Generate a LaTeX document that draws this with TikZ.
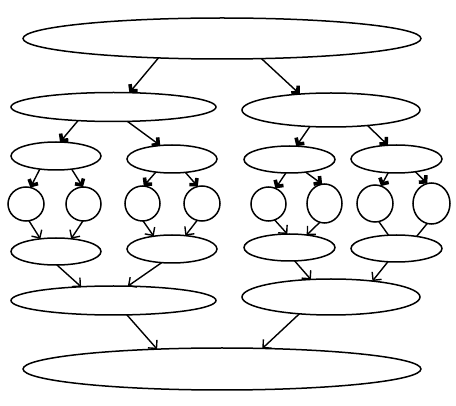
\documentclass[tikz,border=0pt]{standalone}
\usetikzlibrary{shapes.geometric,arrows.meta}
\tikzset{
  ell/.style={draw, ellipse, inner sep=0pt, outer sep=0pt, line width=1.5pt},
  thick head/.style={line width=1.4pt, -{Straight Barb[length=4.5pt,width=10pt,line width=3.6pt]}},
  thin head/.style={line width=1.4pt, -{Straight Barb[length=6pt,width=12pt]}},
  plain/.style={line width=1.4pt}}
\begin{document}
\begin{tikzpicture}[x=1pt,y=-1pt]
\useasboundingbox (0,0) rectangle (456,406);
% nodes
\node[ell, minimum width=398pt, minimum height=41pt] (T) at (222,38.5) {};
\node[ell, minimum width=205pt, minimum height=29pt] (A) at (113.5,107) {};
\node[ell, minimum width=178pt, minimum height=34pt] (B) at (331,110) {};
\node[ell, minimum width=90pt, minimum height=28pt] (A1) at (56,156) {};
\node[ell, minimum width=90pt, minimum height=28pt] (A2) at (172,159) {};
\node[ell, minimum width=91pt, minimum height=27pt] (B1) at (289.5,159.5) {};
\node[ell, minimum width=91pt, minimum height=28pt] (B2) at (396.5,159) {};
\node[ell, minimum width=36pt, minimum height=34pt] (c1) at (26,204) {};
\node[ell, minimum width=35pt, minimum height=34pt] (c2) at (83.5,204) {};
\node[ell, minimum width=35pt, minimum height=35pt] (c3) at (142.5,203.5) {};
\node[ell, minimum width=36pt, minimum height=35pt] (c4) at (202,203.5) {};
\node[ell, minimum width=35pt, minimum height=34pt] (c5) at (268.5,204) {};
\node[ell, minimum width=35pt, minimum height=39pt] (c6) at (324.5,203.5) {};
\node[ell, minimum width=36pt, minimum height=37pt] (c7) at (375,203.5) {};
\node[ell, minimum width=37pt, minimum height=41pt] (c8) at (431.5,203.5) {};
\node[ell, minimum width=90pt, minimum height=27pt] (D1) at (56,251.5) {};
\node[ell, minimum width=90pt, minimum height=28pt] (D2) at (172,249) {};
\node[ell, minimum width=91pt, minimum height=27pt] (E1) at (289.5,247.5) {};
\node[ell, minimum width=91pt, minimum height=27pt] (E2) at (396.5,248.5) {};
\node[ell, minimum width=205pt, minimum height=29pt] (F) at (113.5,300.5) {};
\node[ell, minimum width=178pt, minimum height=36pt] (G) at (331,297) {};
\node[ell, minimum width=398pt, minimum height=42pt] (H) at (222,369) {};
% connectors
\draw[thick head] (T.197) -- (A.42);
\draw[thick head] (T.333) -- (B.153);
\draw[thick head] (A.201) -- (A1.74);
\draw[thick head] (A.314) -- (A2.131);
\draw[thick head] (B.218) -- (B1.63);
\draw[thick head] (B.337) -- (B2.122);
\draw[thick head] (A1.219) -- (c1.75);
\draw[thick head] (A1.320) -- (c2.92);
\draw[thick head] (A2.219) -- (c3.86);
\draw[thick head] (A2.315) -- (c4.104);
\draw[thick head] (B1.255) -- (c5.66);
\draw[thick head] (B1.322) -- (c6.97);
\draw[thick head] (B2.239) -- (c7.71);
\draw[thick head] (B2.326) -- (c8.102);
\draw[thin head] (c1.280) -- (D1.141);
\draw[thin head] (c2.268) -- (D1.40);
\draw[thin head] (c3.272) -- (D2.145);
\draw[thin head] (c4.254) -- (D2.45);
\draw[thin head] (c5.291) -- (E1.99);
\draw[thin head] (c6.256) -- (E1.36);
\draw[plain] (c7.282) -- (E2.121);
\draw[plain] (c8.258) -- (E2.31);
\draw[thin head] (D1.274) -- (F.157);
\draw[thin head] (D2.233) -- (F.45);
\draw[thin head] (E1.291) -- (G.139);
\draw[thin head] (E2.237) -- (G.21);
\draw[thin head] (F.313) -- (H.163);
\draw[thin head] (G.208) -- (H.27);
\end{tikzpicture}
\end{document}
